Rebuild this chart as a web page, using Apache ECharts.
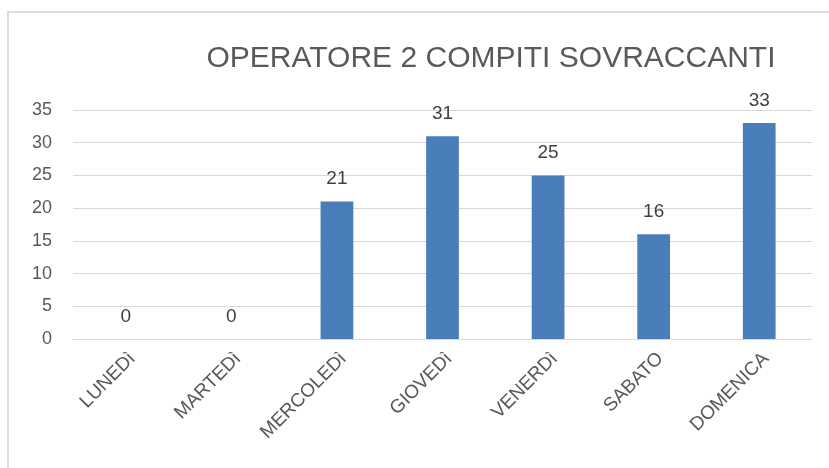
<!DOCTYPE html>
<html>
<head>
<meta charset="utf-8">
<script src="https://cdn.jsdelivr.net/npm/echarts@6/dist/echarts.min.js"></script>
<style>
  html, body { margin: 0; padding: 0; background: #fff; }
  #chart { width: 829px; height: 468px; }
</style>
</head>
<body>
<div id="chart"></div>
<script>
// dati del grafico
const titolo = 'OPERATORE 2 COMPITI SOVRACCANTI';
const giorni = ['LUNEDì', 'MARTEDì', 'MERCOLEDì', 'GIOVEDì', 'VENERDì', 'SABATO', 'DOMENICA'];
const compiti = [0, 0, 21, 31, 25, 16, 33];
const yMin = 0;
const yMax = 35;
const yStep = 5;

const font = 'Liberation Sans, Arial, sans-serif';

const myChart = echarts.init(document.getElementById('chart'));

const option = {
  backgroundColor: '#fff',
  animation: false,
  graphic: [
    {
      type: 'rect',
      shape: { x: 8, y: 12, width: 840, height: 470 },
      style: { fill: 'none', stroke: '#dedede', lineWidth: 2 },
      silent: true,
    },
  ],
  title: {
    text: titolo,
    left: 486,
    top: 39,
    textAlign: 'center',
    textStyle: {
      fontFamily: font,
      fontSize: 30,
      fontWeight: 'normal',
      color: '#595959',
    },
  },
  grid: {
    left: 73,
    right: 17,
    top: 110,
    bottom: 129,
  },
  xAxis: {
    type: 'category',
    data: giorni,
    axisLine: { lineStyle: { color: '#d9d9d9' } },
    axisTick: { show: false },
    axisLabel: {
      rotate: 45,
      margin: 10,
      interval: 0,
      verticalAlign: 'top',
      fontFamily: font,
      fontSize: 19,
      color: '#595959',
    },
  },
  yAxis: {
    type: 'value',
    min: yMin,
    max: yMax,
    interval: yStep,
    axisLine: { show: false },
    axisTick: { show: false },
    splitLine: { lineStyle: { color: '#d9d9d9' } },
    axisLabel: {
      margin: 21,
      fontFamily: font,
      fontSize: 18,
      color: '#595959',
    },
  },
  series: [
    {
      type: 'bar',
      data: compiti,
      barWidth: '31%',
      itemStyle: { color: '#4a7ebb' },
      label: {
        show: true,
        position: 'top',
        distance: 13,
        fontFamily: font,
        fontSize: 19,
        color: '#404040',
      },
    },
  ],
};

myChart.setOption(option);
</script>
</body>
</html>
